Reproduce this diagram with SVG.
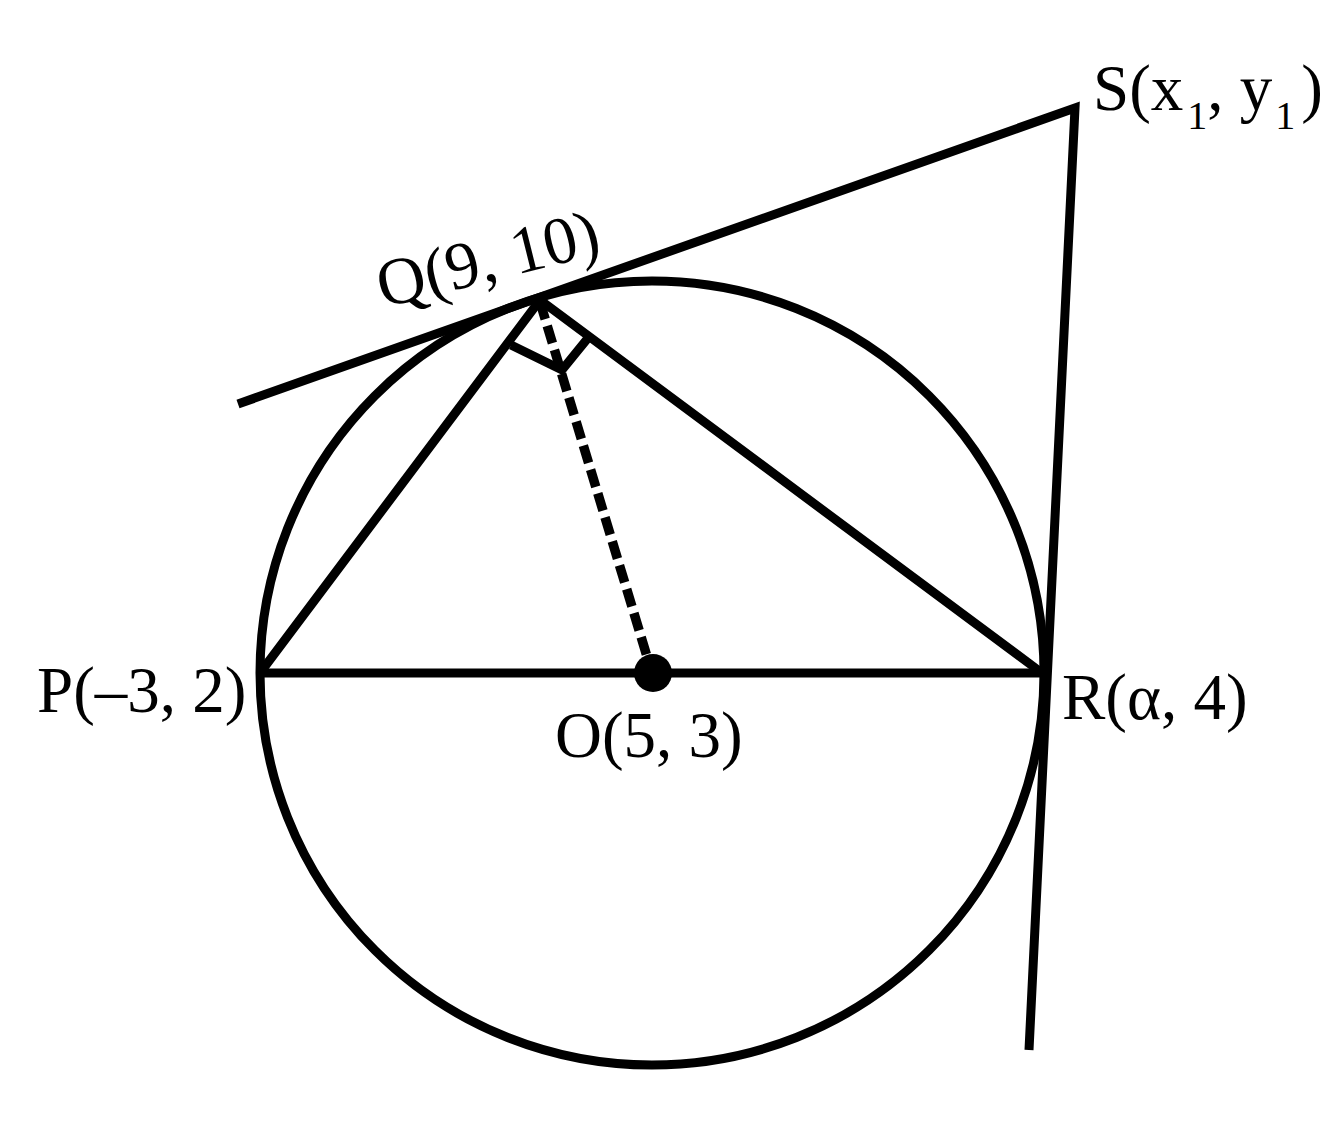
<svg xmlns="http://www.w3.org/2000/svg" width="1331" height="1135" viewBox="0 0 1331 1135">
<style>
.ln{fill:none;stroke:#000;stroke-width:9;stroke-linejoin:miter;stroke-linecap:butt}
.dash{fill:none;stroke:#000;stroke-width:9.5;stroke-dasharray:18 7}
.lb{font-family:"Liberation Serif","Times New Roman",serif;font-size:65px;fill:#000}
.big{font-size:67px}
.sub{font-size:40px}
</style>
<rect width="1331" height="1135" fill="#fff"/>
<g id="circle"><circle cx="652" cy="673" r="392" class="ln"/></g>
<g id="connectors">
<polyline class="ln" points="238,404 1075,108 1029,1050"/>
<polyline class="ln" points="260,673 540,300 1042,673"/>
<line class="ln" x1="260" y1="673" x2="1042" y2="673"/>
<polyline class="ln" points="511,345 562,370 588,338"/>
<line class="dash" x1="540" y1="302" x2="652" y2="673"/>
</g>
<g id="node-O"><circle cx="653" cy="673" r="19" fill="#000"/><text class="lb" x="555" y="757">O(5, 3)</text></g>
<g id="node-P"><text class="lb" x="37" y="712">P(–3, 2)</text></g>
<g id="node-R"><text class="lb" x="1062" y="719">R(α, 4)</text></g>
<g id="node-Q"><text class="lb big" transform="translate(383,308) rotate(-14)">Q(9, 10)</text></g>
<g id="node-S"><text class="lb" x="1093" y="110">S(x<tspan class="sub" dx="4" dy="19">1</tspan><tspan dy="-19">, y</tspan><tspan class="sub" dx="3" dy="19">1</tspan><tspan dx="6" dy="-19">)</tspan></text></g>
</svg>
